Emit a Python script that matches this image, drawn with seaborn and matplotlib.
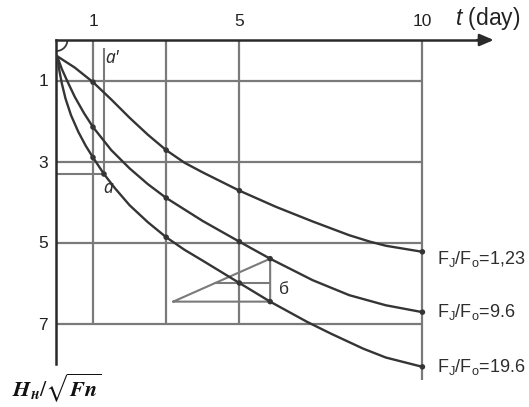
import matplotlib
matplotlib.use("Agg")
import matplotlib.pyplot as plt
from matplotlib.patches import Arc
import pandas as pd
import seaborn as sns

# ---- data -------------------------------------------------------------
t_ticks = [1, 5, 10]
h_ticks = [1, 3, 5, 7]

# grid: vertical lines (day, lower end) and horizontal lines (level)
vline_t = [1, 3, 5, 10]
vline_end = [7, 7, 7, 8.4]
hline_h = [1, 3, 5, 7]
hline_end = 10

curve_names = ["F$_{\\rm J}$/F$_{\\rm o}$=1,23",
               "F$_{\\rm J}$/F$_{\\rm o}$=9.6",
               "F$_{\\rm J}$/F$_{\\rm o}$=19.6"]
label_shift = [0.18, 0.0, 0.0]

t_123 = [0.02, 0.5, 1.0, 1.5, 2.0, 2.5, 3.0, 3.5, 4.0, 5.0, 6.0, 7.0, 8.0, 8.57, 9.0, 10.0]
h_123 = [0.40, 0.68, 1.04, 1.47, 1.92, 2.34, 2.72, 3.03, 3.27, 3.72, 4.12, 4.48, 4.82, 4.98, 5.08, 5.23]
dots_123 = [1.0, 3.0, 5.0, 10.0]

t_96 = [0.02, 0.15, 0.3, 0.5, 0.75, 1.0, 1.5, 2.0, 2.5, 3.0, 4.0, 5.0, 5.84, 7.0, 8.0, 9.0, 10.0]
h_96 = [0.40, 0.72, 1.02, 1.40, 1.80, 2.15, 2.72, 3.17, 3.56, 3.90, 4.47, 4.98, 5.40, 5.93, 6.30, 6.55, 6.72]
dots_96 = [1.0, 3.0, 5.0, 5.84, 10.0]

t_196 = [0.02, 0.08, 0.15, 0.25, 0.4, 0.6, 0.8, 1.0, 1.3, 1.6, 2.0, 2.5, 3.0, 3.5, 4.0,
         5.0, 5.84, 6.85, 7.5, 8.38, 9.0, 10.0]
h_196 = [0.40, 0.75, 1.08, 1.45, 1.86, 2.27, 2.61, 2.90, 3.31, 3.66, 4.08, 4.50, 4.87, 5.18, 5.45,
         6.00, 6.46, 6.96, 7.25, 7.62, 7.84, 8.07]
dots_196 = [1.0, 1.3, 3.0, 5.0, 5.84, 10.0]

# construction "а": reading of the steepest curve at t = 1.3
a_t, a_h, a_top = 1.3, 3.31, 0.2

# construction "б": triangle between the 9.6 and 19.6 curves
b_t = [3.19, 5.84, 5.84, 3.19]
b_h = [6.46, 5.40, 6.46, 6.46]
b_mid_t = [4.34, 5.84]
b_mid_h = [6.0, 6.0]

# ---- style ------------------------------------------------------------
sns.set_theme(style="white")
plt.rcParams["font.family"] = ["Liberation Sans", "DejaVu Sans"]
plt.rcParams["mathtext.fontset"] = "custom"
plt.rcParams["mathtext.rm"] = "Liberation Sans"
plt.rcParams["mathtext.it"] = "Liberation Sans:italic"
plt.rcParams["mathtext.bf"] = "Liberation Sans:bold"

INK = "#353535"
GRID = "#7a7a7a"
TXT = "#2e2e2e"

W, H = 529, 407
x0, y0 = 56.4, 40.0          # pixel position of the origin
px_t, px_h = 36.6, 40.5      # pixels per unit

fig = plt.figure(figsize=(W / 100, H / 100), dpi=100)
ax = fig.add_axes([x0 / W, 0, 1 - x0 / W, 1 - y0 / H])
ax.set_xlim(0, (W - x0) / px_t)
ax.set_ylim((H - y0) / px_h, 0)

# grid
ax.vlines(vline_t, 0, vline_end, color=GRID, lw=1.6, zorder=1)
ax.hlines(hline_h, 0, hline_end, color=GRID, lw=1.6, zorder=1)

# construction lines
ax.vlines([a_t], a_top, a_h, color=GRID, lw=1.5, zorder=1)
ax.hlines([a_h], 0, a_t, color=GRID, lw=1.5, zorder=1)
ax.plot(b_t, b_h, color=GRID, lw=1.5, zorder=1)
ax.plot(b_mid_t, b_mid_h, color=GRID, lw=1.5, zorder=1)

# curves
curves = [(t_123, h_123, dots_123), (t_96, h_96, dots_96), (t_196, h_196, dots_196)]
rows, dot_rows = [], []
for name, (ts, hs, ds) in zip(curve_names, curves):
    rows += [{"curve": name, "t": t, "h": h} for t, h in zip(ts, hs)]
    lookup = dict(zip(ts, hs))
    dot_rows += [{"curve": name, "t": d, "h": lookup[d]} for d in ds]
df = pd.DataFrame(rows)
dots = pd.DataFrame(dot_rows)

sns.lineplot(data=df, x="t", y="h", hue="curve", palette=[INK] * 3,
             estimator=None, sort=False, lw=1.7, legend=False, ax=ax, zorder=3)
sns.scatterplot(data=dots, x="t", y="h", color=INK, s=16, edgecolor="none",
                legend=False, ax=ax, zorder=4)

# curve labels at the right end
for name, shift, (ts, hs, ds) in zip(curve_names, label_shift, curves):
    ax.text(ts[-1] + 0.4, hs[-1] + shift, name, fontsize=13, color=TXT,
            va="center", ha="left")

# axes
for side in ["right", "bottom"]:
    ax.spines[side].set_visible(False)
ax.spines["top"].set_bounds(0, 11.75)
ax.spines["left"].set_bounds(0, 8.0)
for side in ["top", "left"]:
    ax.spines[side].set_color("#2a2a2a")
    ax.spines[side].set_linewidth(1.8)
ax.annotate("", xy=(11.95, 0), xytext=(11.5, 0), annotation_clip=False,
            arrowprops=dict(arrowstyle="-|>,head_length=0.7,head_width=0.3",
                            color="#2a2a2a", lw=1.8, shrinkA=0, shrinkB=0))

ax.xaxis.tick_top()
ax.set_xticks(t_ticks)
ax.set_xticklabels([str(v) for v in t_ticks])
ax.set_yticks(h_ticks)
ax.set_yticklabels([str(v) for v in h_ticks])
ax.tick_params(axis="x", length=0, pad=8, labelsize=12.5, labelcolor="#222222")
ax.tick_params(axis="y", length=0, pad=6, labelsize=12.5, labelcolor="#222222")
ax.set_xlabel("")
ax.set_ylabel("")

ax.text(10.88, -0.36, "$t$ (day)", fontsize=16.5, color="#222222",
        va="baseline", ha="left")

# small arc at the origin
ax.add_patch(Arc((0, 0), 2 * 11 / px_t, 2 * 11 / px_h, theta1=0, theta2=90,
                 color="#3a3a3a", lw=1.3, clip_on=False))

# construction letters
ax.text(1.52, 0.44, "а'", fontsize=12.5, color=TXT, va="center", ha="center",
        family=["Noto Sans", "DejaVu Sans"], style="italic")
ax.text(1.41, 3.65, "а", fontsize=12.5, color=TXT, va="center", ha="center",
        family=["Noto Sans", "DejaVu Sans"], style="italic")
ax.text(6.22, 6.15, "б", fontsize=12.5, color=TXT, va="center", ha="center")

# vertical-axis quantity
ax.text(-1.22, 8.58, r"$\mathbfit{H}_{\mathbfit{н}}/\sqrt{\mathbfit{F n}}$", fontsize=16,
        color="#111111", va="center", ha="left", math_fontfamily="stix")

fig.savefig("out.png", dpi=100)
